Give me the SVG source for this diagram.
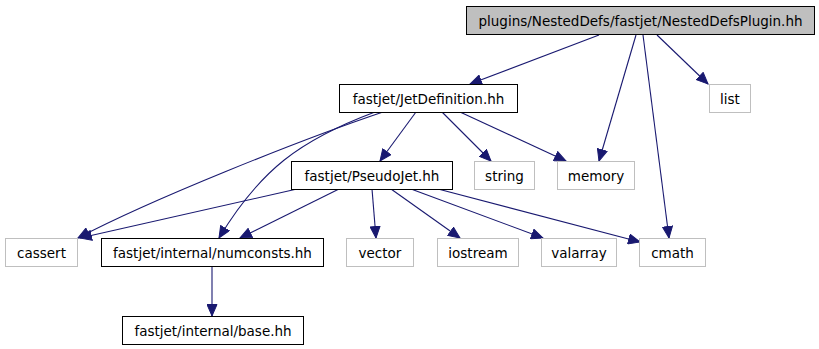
<svg xmlns="http://www.w3.org/2000/svg" width="819" height="349" viewBox="0 0 819 349">
<style>
text{font-family:"DejaVu Sans",sans-serif;font-size:13.5px;text-anchor:middle;fill:#000}
.n rect{fill:#fff;stroke:#000;stroke-width:1}
.g rect{fill:#fff;stroke:#bfbfbf;stroke-width:1}
.root rect{fill:#bfbfbf;stroke:#000}
#edges path{fill:none;stroke:#191970;stroke-width:1.1;marker-end:url(#a)}
</style>
<defs>
<marker id="a" markerUnits="userSpaceOnUse" markerWidth="13" markerHeight="11" refX="12" refY="5.5" orient="auto" viewBox="0 0 13 11">
<path d="M0.5,0.5 L12,5.5 L0.5,10.5 Z" fill="#191970" stroke="#191970"/>
</marker>
</defs>
<rect width="819" height="349" fill="#fff"/>
<g id="edges">
<path d="M599,35 L470,84"/>
<path d="M636,35 L599,161"/>
<path d="M643,35 L669,238"/>
<path d="M657,35 L708,84"/>
<path d="M383,112 C300,140 150,200 78,238"/>
<path d="M375,112 C300,140 260,170 219,238"/>
<path d="M416,112 L380,161"/>
<path d="M442,112 L491,161"/>
<path d="M460,112 L566,161"/>
<path d="M297,189 L80,238"/>
<path d="M339,189 L240,238"/>
<path d="M372,189 L376,238"/>
<path d="M391,189 L460,238"/>
<path d="M411,189 L543,238"/>
<path d="M438,189 L640,242"/>
<path d="M212,267 L212,316"/>
</g>
<g id="root" class="n root"><rect x="466.5" y="6.5" width="348" height="28"/><text x="640.5" y="25.5">plugins/NestedDefs/fastjet/NestedDefsPlugin.hh</text></g>
<g id="jetdef" class="n"><rect x="339.5" y="84.5" width="178" height="28"/><text x="428.5" y="103.5">fastjet/JetDefinition.hh</text></g>
<g id="list" class="g"><rect x="709.5" y="84.5" width="41" height="28"/><text x="730" y="103.5">list</text></g>
<g id="pseudojet" class="n"><rect x="291.5" y="161.5" width="161" height="28"/><text x="372" y="180.5">fastjet/PseudoJet.hh</text></g>
<g id="string" class="g"><rect x="474.5" y="161.5" width="60" height="28"/><text x="504.5" y="180.5">string</text></g>
<g id="memory" class="g"><rect x="557.5" y="161.5" width="77" height="28"/><text x="596" y="180.5">memory</text></g>
<g id="cassert" class="g"><rect x="5.5" y="238.5" width="72" height="28"/><text x="41.5" y="257.5">cassert</text></g>
<g id="numconsts" class="n"><rect x="101.5" y="238.5" width="222" height="28"/><text x="212.5" y="257.5">fastjet/internal/numconsts.hh</text></g>
<g id="vector" class="g"><rect x="346.5" y="238.5" width="67" height="28"/><text x="380" y="257.5">vector</text></g>
<g id="iostream" class="g"><rect x="437.5" y="238.5" width="81" height="28"/><text x="478" y="257.5">iostream</text></g>
<g id="valarray" class="g"><rect x="541.5" y="238.5" width="75" height="28"/><text x="579" y="257.5">valarray</text></g>
<g id="cmath" class="g"><rect x="639.5" y="238.5" width="66" height="28"/><text x="672.5" y="257.5">cmath</text></g>
<g id="base" class="n"><rect x="122.5" y="316.5" width="181" height="28"/><text x="213" y="335.5">fastjet/internal/base.hh</text></g>
</svg>
